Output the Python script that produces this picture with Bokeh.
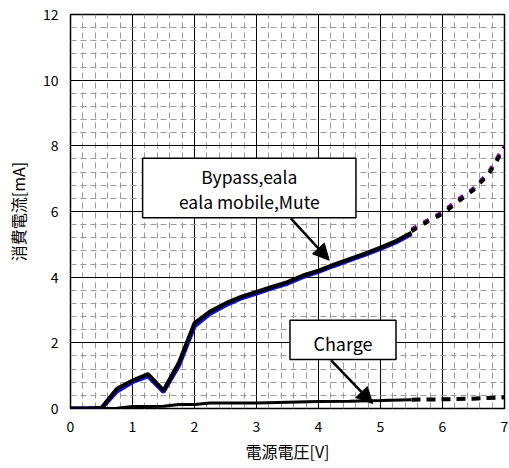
from bokeh.plotting import figure
from bokeh.models import FixedTicker, BoxAnnotation, Label, Arrow, NormalHead
from bokeh.embed import file_html
from bokeh.resources import INLINE

# ---- data ----
bypass_v = [0, 0.25, 0.5, 0.75, 1.0, 1.25, 1.5, 1.75, 2.0, 2.25, 2.5, 2.75, 3.0,
            3.25, 3.5, 3.75, 4.0, 4.25, 4.5, 4.75, 5.0, 5.25, 5.5]
bypass_i = [0, 0, 0.02, 0.6, 0.85, 1.05, 0.55, 1.4, 2.6, 2.95, 3.2, 3.4, 3.55,
            3.7, 3.85, 4.05, 4.2, 4.38, 4.55, 4.72, 4.9, 5.1, 5.35]
mobile_i = [0, 0, 0.0, 0.52, 0.8, 0.98, 0.5, 1.3, 2.5, 2.88, 3.14, 3.35, 3.5,
            3.66, 3.8, 4.0, 4.16, 4.34, 4.51, 4.68, 4.86, 5.06, 5.31]
ext_v = [5.5, 5.75, 6.0, 6.25, 6.5, 6.75, 7.0]
ext_i = [5.4, 5.68, 5.93, 6.3, 6.66, 7.15, 7.95]
ext2_i = [5.45, 5.72, 5.98, 6.36, 6.7, 7.2, 8.0]
charge_v = [0, 0.5, 0.75, 1.0, 1.25, 1.5, 1.75, 2.0, 2.25, 2.5, 3.0, 3.5, 4.0,
            4.5, 5.0, 5.5]
charge_i = [0, 0, 0.01, 0.06, 0.06, 0.07, 0.12, 0.12, 0.17, 0.17, 0.17, 0.19,
            0.21, 0.22, 0.24, 0.27]
charge_ext_v = [5.5, 6.0, 6.5, 7.0]
charge_ext_i = [0.27, 0.28, 0.3, 0.34]
x_ticks = [0, 1, 2, 3, 4, 5, 6, 7]
y_ticks = [0, 2, 4, 6, 8, 10, 12]

FONT = "Noto Sans CJK JP"

p = figure(width=509, height=468, x_range=(0, 7), y_range=(0, 12),
           output_backend="svg", toolbar_location=None,
           min_border_left=70, min_border_right=5, min_border_top=14,
           min_border_bottom=60)

x_minor = [round(i * 0.2, 2) for i in range(0, 36)]
y_minor = [round(i * 0.4, 2) for i in range(0, 31)]
p.xaxis.ticker = FixedTicker(ticks=x_ticks, minor_ticks=x_minor)
p.yaxis.ticker = FixedTicker(ticks=y_ticks, minor_ticks=y_minor)

for ax in (p.xaxis, p.yaxis):
    ax.major_tick_line_color = None
    ax.minor_tick_line_color = None
    ax.major_tick_out = 0
    ax.minor_tick_out = 0
    ax.major_tick_in = 0
    ax.minor_tick_in = 0
    ax.axis_line_color = None
    ax.major_label_text_font = FONT
    ax.major_label_text_font_size = "14px"
    ax.major_label_text_color = "black"
    ax.axis_label_text_font = FONT
    ax.axis_label_text_font_size = "16px"
    ax.axis_label_text_font_style = "normal"
    ax.axis_label_text_color = "black"

p.xaxis.axis_label = "電源電圧[V]"
p.yaxis.axis_label = "消費電流[mA]"
p.xaxis.major_label_standoff = 12
p.yaxis.major_label_standoff = 12
p.xaxis.axis_label_standoff = 4
p.yaxis.axis_label_standoff = 10

for g in (p.xgrid, p.ygrid):
    g.grid_line_color = "black"
    g.grid_line_width = 1
    g.grid_line_alpha = 1
    g.minor_grid_line_color = "#9a9a9a"
    g.minor_grid_line_dash = "6 4"
    g.minor_grid_line_width = 1
p.xgrid.level = "underlay"
p.ygrid.level = "underlay"

p.outline_line_color = "black"
p.outline_line_width = 1.5
p.background_fill_color = "white"

# series
p.line(bypass_v, mobile_i, line_color="#1010e0", line_width=4)
p.line(bypass_v, bypass_i, line_color="black", line_width=4)
p.line(ext_v, ext2_i, line_color="#7a1090", line_width=4, line_dash="6 8")
p.line(ext_v, ext_i, line_color="black", line_width=4, line_dash="6 8")
p.line(charge_v, charge_i, line_color="black", line_width=3)
p.line(charge_ext_v, charge_ext_i, line_color="black", line_width=4, line_dash="9 6")

# annotations
p.add_layout(BoxAnnotation(left=1.163, right=4.604, bottom=5.81, top=7.62,
                           fill_color="white", fill_alpha=1,
                           line_color="black", line_alpha=1, line_width=1.5,
                           level="overlay"))
p.add_layout(Label(x=2.884, y=7.07, text="Bypass,eala", text_align="center",
                   text_baseline="middle", text_font=FONT, text_font_size="17.5px",
                   text_color="black", level="overlay"))
p.add_layout(Label(x=2.884, y=6.3, text="eala mobile,Mute", text_align="center",
                   text_baseline="middle", text_font=FONT, text_font_size="17.5px",
                   text_color="black", level="overlay"))
p.add_layout(Arrow(x_start=3.554, y_start=5.79, x_end=4.173, y_end=4.515,
                   line_color="black", line_width=2.5,
                   end=NormalHead(size=16, fill_color="black", line_color="black")))

p.add_layout(BoxAnnotation(left=3.54, right=5.25, bottom=1.49, top=2.69,
                           fill_color="white", fill_alpha=1,
                           line_color="black", line_alpha=1, line_width=1.5,
                           level="overlay"))
p.add_layout(Label(x=4.395, y=2.0, text="Charge", text_align="center",
                   text_baseline="middle", text_font=FONT, text_font_size="18px",
                   text_color="black", level="overlay"))
p.add_layout(Arrow(x_start=4.2, y_start=1.47, x_end=4.874, y_end=0.15,
                   line_color="black", line_width=2.5,
                   end=NormalHead(size=16, fill_color="black", line_color="black")))

open("out.html", "w").write(file_html(p, INLINE))
